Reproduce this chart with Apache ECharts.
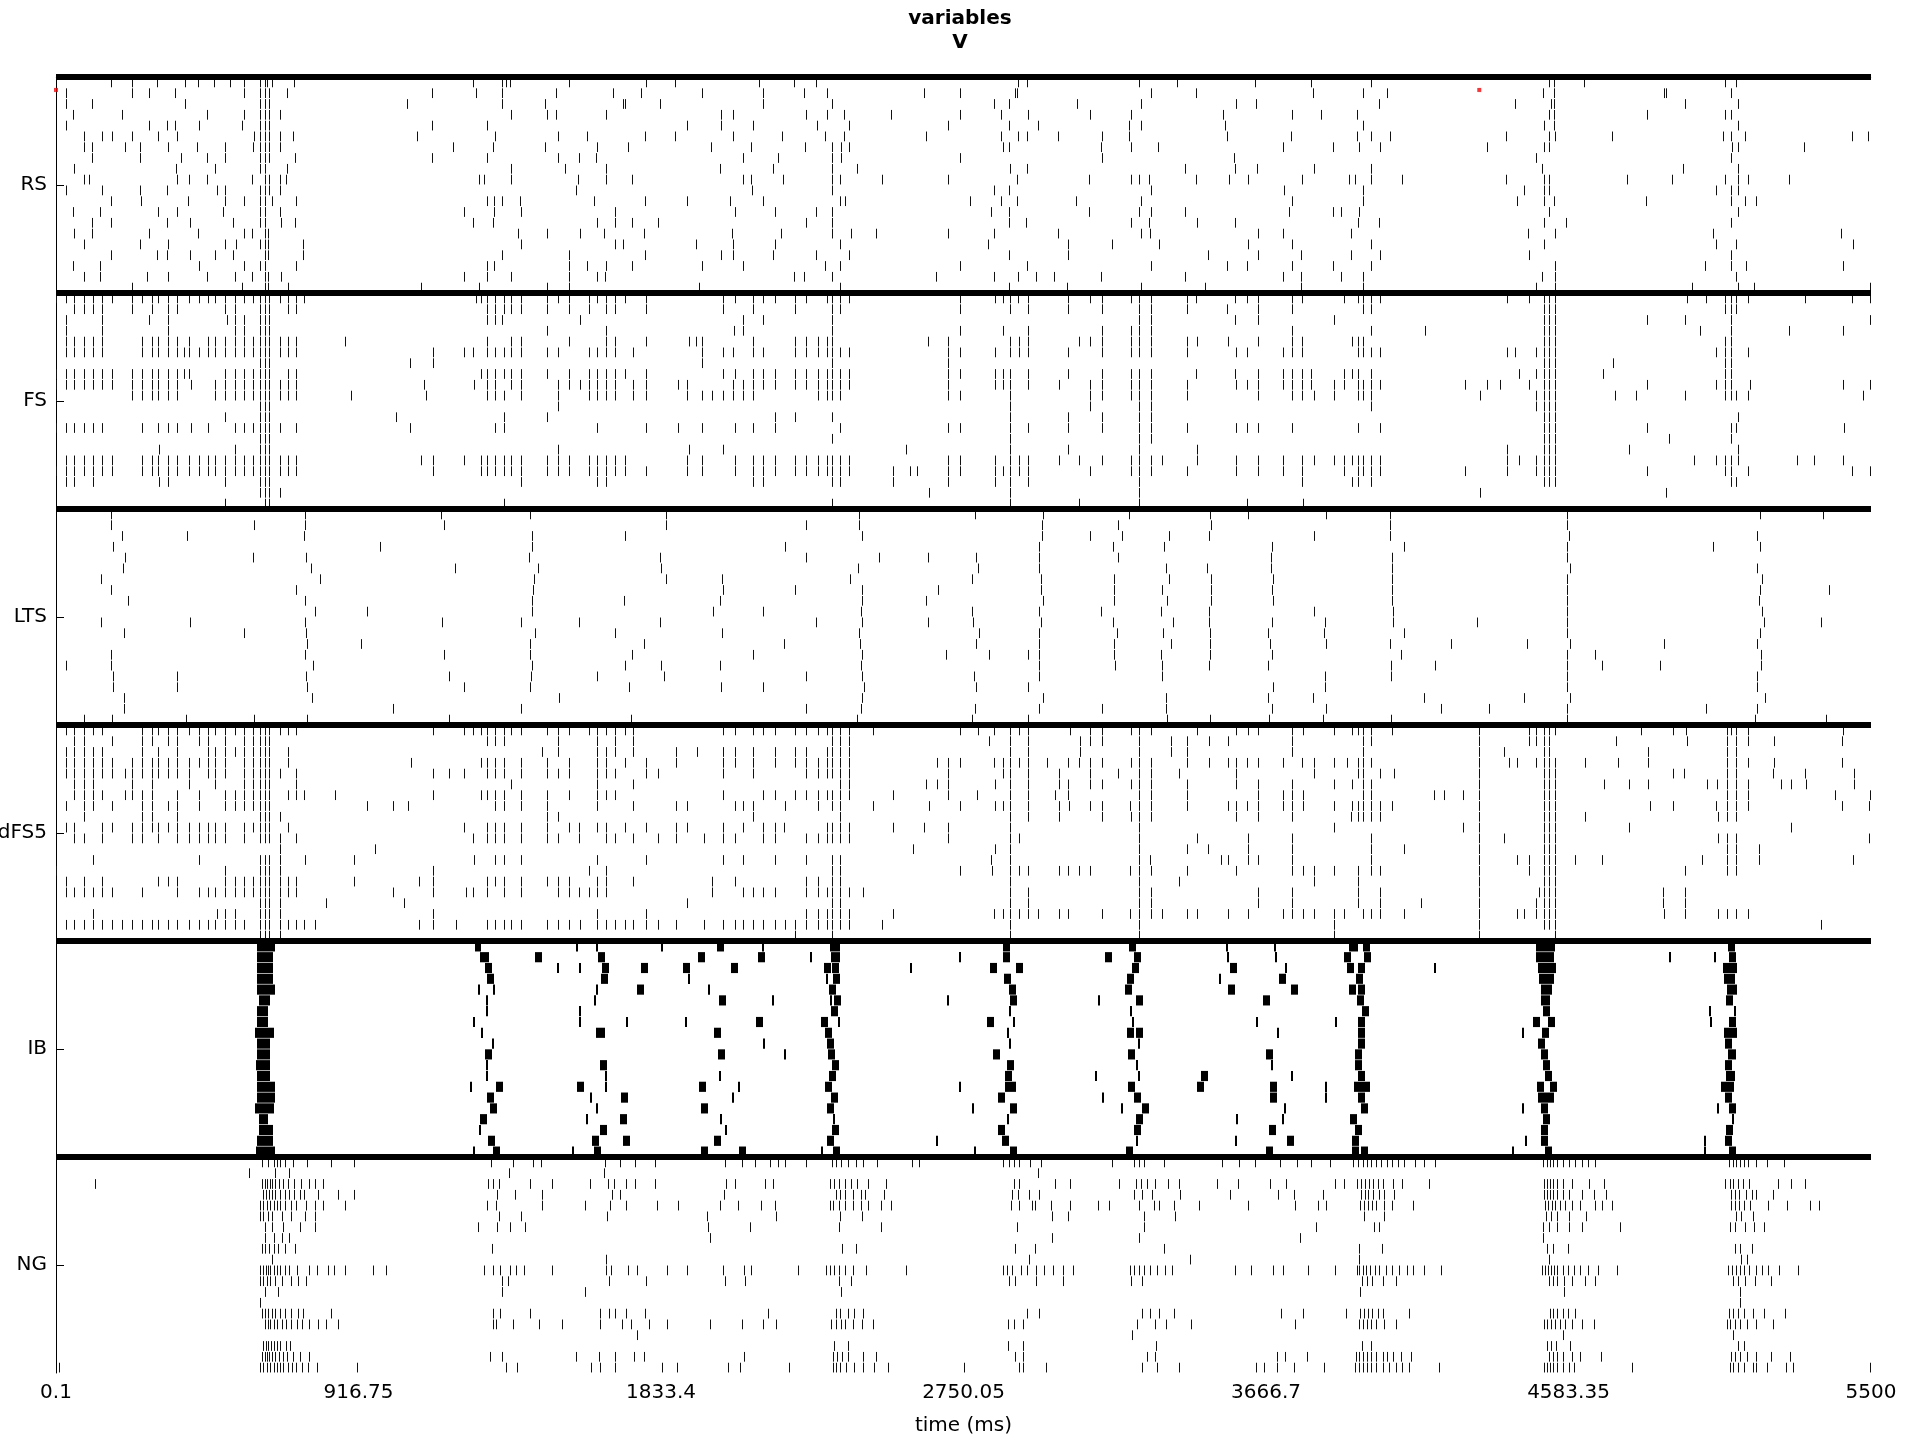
<!DOCTYPE html>
<html><head><meta charset="utf-8">
<script src="https://cdn.jsdelivr.net/npm/echarts@6/dist/echarts.min.js"></script>
<style>html,body{margin:0;padding:0;background:#fff}#main{width:1920px;height:1440px}</style>
</head><body><div id="main"></div><script>
const groupNames = ['RS','FS','LTS','dFS5','IB','NG'];
const groupLabelRows = [10,30,50,70,90,110];
const groupBoundaries = [0,20,40,60,80,100];
const xTickValues = [0.1, 916.75, 1833.4, 2750.05, 3666.7, 4583.35, 5500];
const redMarks = [[0.1,1.2],[4313,1.2]];

const RS = [
[166,231,305,391,431,480,528,569,619,632,639,656,721,1263,1352,1363,1376,1556,1788,1877,2131,2235,2302,2915,2943,3283,3396,3634,3804,3984,4524,4539,4630,5059,5092],
[29,231,281,361,569,617,632,647,700,1138,1272,1352,1515,1688,1773,1957,2144,2267,2336,2631,2739,2906,2913,3318,3455,3808,3960,4034,4506,4539,4872,4879,5077],
[29,108,391,617,632,647,1064,1352,1482,1718,1723,1831,2144,2352,2841,2888,3094,3287,3576,3637,4010,4420,4530,4539,4935,5096],
[53,201,459,569,617,632,647,678,1380,1487,1515,1666,2015,2052,2272,2336,2388,2529,2739,2865,2947,3132,3259,3537,3747,3832,3943,4524,4539,4821,5057,5076],
[29,281,335,361,433,565,617,632,647,1138,1306,1912,2015,2111,2306,2402,2703,2888,2977,3251,3287,3541,3962,4508,4539,5096],
[84,138,170,231,309,368,600,617,632,647,678,717,1094,1330,1521,1608,1786,1875,2053,2200,2330,2388,2636,2865,2915,2943,3036,3170,3251,3550,3741,3943,3986,4042,4393,4524,4543,4714,5053,5076,5118,5441,5490],
[84,108,209,255,340,426,511,598,617,632,647,678,1203,1324,1482,1640,1732,1985,2105,2271,2352,2378,2402,2869,2888,3168,3259,3338,3717,3871,3949,4012,4335,4508,4524,5079,5096,5297],
[108,255,378,459,511,617,632,647,725,1138,1306,1521,1586,1636,2081,2187,2352,2378,2739,3170,3569,4484,5076],
[56,365,483,617,632,699,1380,1543,1667,2011,2172,2352,2428,2891,2943,3422,3574,3639,3812,3984,4502,4929,5096],
[84,101,368,402,459,593,632,647,678,697,1283,1296,1380,1582,1667,1745,2081,2105,2204,2352,2375,2503,2703,2913,3129,3259,3283,3311,3454,3556,3611,3775,3919,3936,3984,4079,4393,4508,4524,4760,4898,5057,5096,5126,5252],
[29,138,255,335,489,511,617,632,647,678,1576,2109,2352,2841,2888,3318,3721,3960,4450,4508,4524,5029,5076,5096],
[168,257,400,511,569,617,632,656,728,1306,1328,1352,1406,1630,1784,1912,2042,2143,2375,2391,2769,2865,2913,3092,3287,3745,3960,4426,4508,4539,4818,5076,5118,5152],
[53,134,309,368,506,617,632,678,1235,1328,1408,1693,2059,2178,2302,2352,2832,2888,3131,3283,3318,3422,3736,3871,3895,3949,4524,5096],
[108,168,335,407,537,617,632,682,723,1265,1324,1638,1693,1745,1825,2272,2352,2888,2939,3257,3311,3457,3572,3945,4010,4508,4575,5076],
[56,108,283,430,569,593,632,643,1400,1487,1589,1662,1781,2048,2198,2352,2408,2484,2703,2841,3036,3287,3314,3641,3719,3923,4461,4543,5020,5408],
[84,255,340,511,545,617,632,643,749,1408,1693,1719,1940,2052,2178,2375,2823,3068,3199,3342,3611,3747,3986,4508,5029,5092,5445],
[168,305,335,407,483,537,632,643,749,1352,1556,1786,2015,2052,2172,2302,2402,2888,3068,3491,3641,3773,3923,4012,4465,5076],
[53,134,433,569,617,632,728,1306,1326,1556,1608,1667,1745,1959,2083,2330,2375,2739,2943,3318,3548,3608,3747,3871,3984,4543,4998,5076,5122,5415],
[84,134,277,340,459,541,593,632,643,682,1235,1306,1378,1556,1640,1664,2235,2267,2352,2666,2841,2915,2971,3025,3168,3422,3717,3773,3895,3960,4502,4543,5092],
[231,563,632,643,702,1105,1283,1487,1556,1948,2375,2888,3064,3287,3481,3773,3960,4484,4543,4957,5096,5146,5497]
];

const FS = [
[1,29,56,84,112,138,170,231,261,290,309,340,368,402,433,461,483,511,541,569,597,617,632,647,678,702,728,752,1272,1287,1306,1330,1358,1380,1408,1487,1521,1556,1615,1640,1667,1693,1723,1788,2020,2057,2111,2143,2178,2239,2272,2336,2352,2375,2402,2739,2845,2869,2891,2915,2947,3068,3134,3171,3259,3283,3318,3428,3455,3574,3609,3641,3747,3775,3903,3945,3962,3986,4012,4396,4465,4508,4524,4543,4942,5001,5059,5076,5092,5126,5300,5443,5497],
[56,84,112,138,231,290,340,368,511,541,617,632,647,702,728,1306,1330,1358,1380,1408,1487,1556,1615,1667,1693,1788,2020,2111,2239,2352,2375,2739,2891,2947,3068,3171,3283,3318,3428,3550,3641,3747,3962,3986,4508,4524,4543,5059,5076,5092],
[29,138,281,340,517,541,569,617,632,647,1306,1330,1352,1588,2081,2143,2352,3283,3318,3574,3641,3873,4508,4524,4543,4821,4935,5076,5497],
[29,138,340,541,569,617,632,647,1487,1667,2055,2081,2352,2739,2869,2947,3171,3259,3283,3318,3747,3986,4150,4508,4524,4543,4981,5076,5252,5415],
[29,56,84,112,138,261,290,309,340,368,402,461,483,511,541,569,597,617,632,647,678,702,728,875,1306,1380,1408,1556,1667,1693,1788,1918,1940,1959,2111,2239,2272,2308,2336,2352,2642,2703,2891,2917,2947,3099,3132,3171,3259,3283,3318,3428,3459,3552,3641,3747,3775,3927,3945,3962,4508,4524,4543,5059,5076],
[29,56,84,112,138,261,290,309,340,368,387,402,433,461,483,511,541,569,597,617,632,647,678,702,728,1142,1235,1263,1306,1330,1358,1380,1408,1487,1521,1615,1640,1667,1693,1749,1957,2020,2052,2111,2143,2239,2272,2308,2336,2352,2375,2402,2703,2739,2845,2891,2917,2947,3068,3171,3259,3283,3318,3428,3576,3609,3717,3747,3775,3945,3962,3986,4012,4396,4422,4486,4508,4524,4543,5031,5059,5076,5126],
[617,632,647,1074,1142,1959,2352,2703,4508,4524,4543,4719,5059,5076],
[1,29,56,84,112,138,170,231,261,290,309,340,368,387,402,511,541,569,597,617,632,647,702,728,1287,1306,1330,1358,1380,1408,1487,1556,1615,1640,1667,1693,1723,1788,2020,2057,2111,2143,2178,2239,2272,2308,2336,2352,2375,2402,2703,2739,2845,2869,2891,2947,3068,3171,3259,3283,3318,3455,3574,3641,3717,3747,3775,3804,3903,3927,3945,3986,4432,4486,4508,4524,4543,4688,5059,5076],
[1,29,56,84,112,138,170,231,261,290,309,340,368,409,483,511,541,569,597,617,632,647,678,702,728,1114,1268,1306,1330,1380,1408,1521,1556,1589,1615,1640,1667,1693,1749,1788,1885,1912,2052,2081,2111,2143,2178,2239,2272,2308,2336,2352,2375,2402,2703,2845,2869,2891,2947,3040,3132,3171,3259,3283,3318,3428,3576,3609,3641,3717,3747,3775,3804,3873,3903,3945,3962,3986,4012,4270,4335,4376,4465,4508,4524,4543,4821,5031,5059,5076,5133,5415,5497],
[231,261,290,309,340,368,483,511,541,569,597,617,632,647,678,702,728,894,1120,1306,1330,1358,1408,1521,1615,1640,1667,1693,1749,1788,1912,1959,1989,2020,2052,2081,2111,2308,2336,2352,2375,2703,2739,2891,3132,3171,3259,3283,3318,3428,3641,3747,3775,3812,3873,3945,3962,3986,4315,4486,4508,4524,4543,4723,4788,4935,5059,5076,5092,5126,5475],
[617,632,647,1521,2891,3132,3283,3318,3986,4486,4508,4524,4543],
[511,617,632,647,1031,1358,1487,2178,2239,2352,2891,3068,3171,3283,3318,4508,4524,4543,5096],
[1,29,56,84,112,138,261,309,340,368,409,461,541,569,597,617,632,647,678,728,1074,1330,1358,1640,1788,1885,1959,2057,2111,2178,2375,2703,2739,2891,2947,3068,3171,3283,3318,3428,3576,3609,3641,3747,3945,4012,4508,4524,4543,4821,5076,5092,5419],
[617,632,647,2352,2891,3283,3318,4508,4524,4543,4888,5076],
[311,541,617,632,647,1521,1918,2020,2575,2891,3068,3283,3459,4396,4508,4524,4543,4768,5096],
[29,56,84,112,138,170,261,290,309,340,368,402,433,461,483,511,541,569,597,617,632,647,678,702,728,1105,1142,1235,1287,1306,1330,1358,1380,1408,1487,1521,1556,1615,1640,1667,1693,1723,1912,1959,2057,2111,2143,2178,2239,2272,2308,2336,2352,2375,2402,2703,2739,2845,2891,2917,2947,3040,3099,3171,3259,3283,3318,3351,3459,3576,3641,3717,3775,3812,3873,3903,3927,3945,3962,3986,4012,4396,4432,4486,4508,4524,4543,4964,5031,5059,5076,5096,5276,5326,5415],
[1,29,56,84,112,138,170,261,290,309,340,368,402,433,461,483,511,541,569,597,617,632,647,678,702,728,1142,1287,1306,1330,1358,1380,1408,1487,1521,1556,1615,1640,1667,1693,1723,1788,1912,1959,2057,2111,2143,2178,2239,2272,2308,2336,2352,2375,2402,2536,2588,2610,2703,2739,2845,2869,2891,2917,2947,3132,3259,3283,3318,3428,3576,3641,3717,3775,3903,3945,3962,3986,4012,4270,4396,4486,4508,4524,4543,4821,5059,5076,5126,5443,5497],
[29,56,112,311,340,511,617,632,647,1408,1640,1667,2111,2143,2352,2375,2536,2703,2845,2891,2947,3283,3775,3927,3945,3986,4508,4524,4543,5076,5092],
[617,632,647,678,2644,2891,3283,4315,4879],
[511,632,647,1358,2352,2891,3099,3283,3609,3778]
];

const LTS = [
[168,754,1168,1437,1849,2434,2785,2990,3251,3496,3611,3849,4042,4580,5163,5356],
[168,600,754,1177,1849,2272,2434,2988,3218,3500,4042,4580],
[201,396,752,1441,1723,2441,2988,3132,3229,3374,3493,3812,4042,4584,5156],
[172,983,1441,2209,2980,3203,3359,3684,4085,4580,5020,5163],
[210,598,758,1434,1829,2272,2493,2642,2789,2980,3218,3682,4047,4580],
[203,773,1209,1460,1833,2430,2795,2980,3363,3487,3682,4047,4589,5156],
[136,799,1450,1849,2018,2406,2776,2986,3207,3374,3500,3689,4047,4580,5170],
[168,726,1445,2020,2239,2441,2673,2986,3207,3351,3500,3684,4047,4580,5165,5373],
[218,754,1443,1721,2013,2441,2636,2990,3207,3366,3500,3689,4047,4580,5161],
[786,942,1443,1990,2143,2438,2776,2980,3166,3350,3493,3812,4053,4580,5170],
[136,405,754,1170,1409,1584,1831,2304,2441,2642,2780,2984,3203,3385,3493,3686,3845,4053,4305,4580,5176,5347],
[205,571,758,1452,1695,2018,2434,2798,2980,3216,3355,3496,3673,3843,4086,4580,5163],
[762,925,1435,1781,2207,2436,2789,2980,3207,3379,3496,3680,3849,4042,4226,4458,4589,4872,5156],
[168,754,1177,1437,1747,2111,2441,2697,2826,2947,2980,3207,3350,3496,3686,4075,4580,4664,5168],
[29,168,780,1441,1725,1834,2011,2440,2980,3209,3351,3493,3674,4044,4179,4580,4684,4860,5168],
[172,368,758,1192,1439,1638,1842,2272,2443,2782,2980,3351,3845,4044,4580,5156],
[173,368,762,1237,1435,1736,2015,2143,2449,2789,2945,3689,3845,4580,5156],
[207,775,1523,2441,2990,3363,3674,3810,4144,4450,4589,5178],
[205,1020,1408,2272,2440,2785,2978,3171,3364,3684,3847,4196,4343,4580,5000,5156],
[84,170,394,600,762,1190,1743,2428,2776,2947,3368,3496,3676,3838,4044,4580,5148,5363]
];

const dFS5 = [
[29,56,84,112,138,261,290,309,340,368,402,433,461,483,511,541,569,597,617,632,647,678,702,728,1142,1235,1263,1287,1306,1330,1358,1380,1408,1487,1521,1556,1615,1640,1667,1693,1723,1749,2020,2057,2111,2143,2178,2239,2272,2308,2336,2352,2375,2402,2477,2739,2795,2841,2891,2917,2947,3073,3132,3171,3259,3283,3318,3459,3576,3611,3641,3747,3778,3873,3927,3945,3962,3986,4049,4313,4465,4486,4508,4524,4543,4803,4899,4940,5063,5076,5092,5126,5415],
[56,84,170,261,290,340,368,433,461,511,569,597,617,632,647,1306,1330,1358,1521,1640,1693,1749,2352,2375,2402,2826,2891,2947,3103,3132,3171,3283,3379,3426,3494,3552,3747,3962,3986,4313,4465,4486,4508,4524,4727,4942,5063,5092,5126,5206,5413],
[29,56,84,112,138,261,309,368,461,483,511,541,569,597,617,632,647,702,1473,1521,1640,1667,1693,1749,1879,1944,2020,2057,2111,2178,2239,2272,2336,2352,2375,2402,2891,2947,3103,3283,3379,3426,3747,3962,4313,4389,4508,4524,4823,5063,5092],
[29,56,84,112,138,170,231,261,290,309,340,368,402,433,461,483,511,569,597,617,632,647,702,1077,1287,1306,1330,1358,1408,1487,1556,1640,1667,1723,1788,1879,2020,2057,2111,2178,2239,2272,2308,2336,2352,2375,2402,2670,2703,2739,2841,2869,2891,2917,2947,3004,3067,3099,3132,3171,3259,3283,3318,3428,3494,3552,3576,3609,3641,3717,3775,3812,3873,3912,3945,3962,3986,4313,4402,4428,4486,4508,4524,4543,4634,4732,4823,5063,5092,5126,5206,5413],
[29,56,84,112,138,170,209,231,261,290,309,340,368,402,461,483,511,569,597,617,632,647,678,728,1142,1190,1235,1306,1330,1358,1408,1487,1521,1556,1640,1667,1693,1788,1825,2020,2111,2272,2308,2336,2352,2375,2402,2703,2869,2891,2947,3038,3132,3218,3283,3318,3403,3576,3812,3945,3962,4012,4055,4313,4508,4524,4543,4899,4933,5063,5092,5204,5300,5447],
[56,84,112,231,290,402,483,569,597,617,632,647,728,1380,1640,1749,2375,2402,2636,2670,2703,2845,2891,2947,3040,3067,3132,3171,3259,3283,3318,3428,3576,3641,3747,3873,3927,3962,3986,4313,4508,4524,4543,4690,4768,4823,5003,5033,5063,5092,5126,5228,5258,5302,5447],
[56,84,112,138,209,231,261,290,368,433,511,541,569,597,617,632,647,702,728,752,847,1142,1287,1306,1330,1358,1408,1487,1556,1640,1667,1693,2020,2143,2178,2239,2272,2308,2336,2352,2375,2402,2536,2703,2791,2891,2947,3027,3067,3283,3318,3428,3641,3719,3747,3778,3962,3986,4177,4205,4265,4313,4508,4524,4543,5063,5092,5126,5391,5497],
[29,84,112,170,261,290,340,368,433,511,541,569,597,617,632,647,944,1020,1068,1330,1358,1408,1487,1640,1749,1879,1912,2057,2081,2111,2209,2308,2352,2375,2477,2644,2739,2845,2869,2891,2947,3038,3069,3132,3171,3255,3283,3318,3428,3552,3576,3609,3641,3717,3747,3778,3873,3927,3945,3962,3986,4012,4047,4313,4508,4524,4543,4829,4899,5031,5063,5092,5126,5412,5493],
[84,261,290,368,617,632,647,680,1487,1521,2111,2375,2891,2947,3038,3171,3259,3283,3318,3576,3641,3747,3923,3945,3962,3986,4012,4313,4508,4524,4543,4632,5035,5063,5092],
[29,56,138,170,231,261,290,309,340,368,402,433,461,483,511,569,597,617,632,647,702,1235,1306,1330,1358,1408,1487,1556,1584,1640,1667,1723,1788,1879,1912,2020,2081,2143,2178,2206,2336,2352,2375,2402,2536,2629,2703,2891,3283,3873,4265,4313,4508,4524,4543,4766,5258],
[56,84,138,231,261,309,368,402,433,461,483,511,569,617,632,647,678,728,1263,1306,1330,1358,1408,1487,1521,1584,1667,1693,1749,1825,1879,1963,2020,2057,2143,2178,2272,2308,2336,2352,2375,2402,2703,2891,2917,3283,3457,3613,3747,3986,4313,4389,4508,4524,4543,5035,5063,5092,5493],
[680,966,2597,2845,2891,3283,3426,3491,3613,3747,3986,4085,4313,4508,4524,4543,5063,5092,5161],
[112,433,617,632,647,680,754,903,1268,1330,1358,1408,1640,1788,2020,2081,2178,2272,2352,2375,2832,2891,3283,3314,3531,3552,3613,3641,3747,3986,4313,4428,4465,4508,4524,4543,4604,4684,4987,5063,5092,5161,5445],
[1,511,617,632,647,680,1142,1615,1667,2352,2375,2739,2836,2891,2917,2947,3038,3067,3099,3132,3255,3283,3318,3428,3576,3747,3778,3812,3873,3945,3986,4012,4313,4465,4508,4524,4543,4937,5063,5092],
[29,84,138,309,340,368,511,541,569,597,617,632,647,680,702,728,903,1100,1142,1306,1330,1358,1408,1487,1521,1556,1640,1667,1749,1989,2057,2272,2308,2352,2375,2891,3283,3403,3812,3945,4313,4508,4524,4543],
[29,56,84,112,138,170,261,368,433,461,483,511,541,569,597,617,632,647,678,702,728,1020,1142,1244,1263,1306,1358,1408,1521,1556,1584,1615,1640,1667,1989,2081,2111,2143,2178,2272,2308,2336,2352,2375,2402,2447,2891,2947,3283,3318,3641,3747,3945,4012,4313,4493,4508,4524,4543,4870,4935],
[617,632,647,680,817,1055,1912,2352,2375,2891,2947,3283,3318,3641,3747,3945,4012,4137,4313,4486,4508,4524,4543,4870,4935],
[112,489,511,541,617,632,647,680,1142,1640,1788,2272,2308,2336,2352,2375,2402,2536,2841,2869,2891,2917,2947,2977,3040,3067,3169,3255,3283,3318,3351,3428,3457,3552,3613,3717,3747,3778,3812,3873,3903,3962,3986,4012,4085,4313,4428,4447,4486,4508,4524,4543,4873,4935,5035,5063,5092,5126],
[29,56,84,112,138,170,201,231,261,290,309,340,368,402,433,461,483,511,541,569,617,632,647,678,702,728,752,786,1100,1142,1211,1306,1330,1358,1380,1408,1487,1521,1556,1589,1640,1667,1693,1723,1749,1788,1825,1879,1963,2020,2057,2081,2111,2143,2178,2209,2239,2272,2308,2336,2352,2375,2402,2503,2891,3283,3873,4313,4508,4524,4543,5348],
[617,632,647,680,2239,2352,2891,3283,3873,4313,4543]
];

// IB bursts: [onset ms, burst duration ms]
const IB = [
[[613,47],[1272,12],[1580,0],[1640,0],[1835,0],[2006,14],[2143,0],[2350,24],[2873,14],[3255,14],[3548,0],[3695,0],[3920,20],[3964,14],[4487,52],[5070,14]],
[[613,43],[1289,20],[1456,14],[1647,14],[1948,14],[2130,14],[2289,0],[2352,20],[2739,0],[2873,14],[3181,14],[3270,14],[3552,0],[3697,0],[3905,14],[3968,14],[4487,48],[4890,0],[5026,0],[5074,14]],
[[613,43],[1304,14],[1521,0],[1589,0],[1657,14],[1777,14],[1902,14],[2050,14],[2329,14],[2356,14],[2590,0],[2832,14],[2912,14],[3265,14],[3560,14],[3726,0],[3916,14],[3948,14],[4179,0],[4493,47],[5055,37]],
[[613,43],[1308,14],[1655,14],[1918,0],[2336,0],[2358,14],[2877,14],[3248,14],[3526,0],[3710,14],[3942,14],[4498,38],[5059,28]],
[[613,47],[1283,0],[1326,0],[1640,0],[1764,14],[1979,0],[2347,14],[2892,14],[3241,14],[3554,14],[3744,14],[3920,14],[3948,14],[4502,28],[5068,24]],
[[619,28],[1307,0],[1634,0],[2013,14],[2172,0],[2350,0],[2360,14],[2703,0],[2893,14],[3160,0],[3276,14],[3660,14],[3944,14],[4504,20],[5065,14]],
[[613,28],[1306,0],[1589,0],[2352,14],[2891,0],[3259,0],[3961,14],[4508,14],[5011,0],[5087,0]],
[[613,28],[1268,0],[1588,0],[1731,0],[1909,0],[2124,14],[2321,14],[2373,0],[2825,14],[2902,0],[3264,0],[3639,0],[3879,0],[3948,14],[4480,14],[4523,14],[5016,0],[5074,14]],
[[606,50],[1292,0],[1638,22],[1998,14],[2332,14],[2884,0],[3250,14],[3276,14],[3704,0],[3948,14],[4446,0],[4506,14],[5059,33]],
[[613,34],[1324,0],[2146,0],[2338,14],[2891,0],[3283,0],[3948,14],[4495,14],[5061,14]],
[[613,34],[1302,14],[2008,14],[2209,0],[2343,14],[2843,14],[3252,14],[3671,14],[3938,14],[4504,14],[5070,19]],
[[610,37],[1306,0],[1651,14],[2356,14],[2886,14],[3277,0],[3686,0],[3938,14],[4510,14],[5061,14]],
[[613,34],[1306,0],[1667,0],[2013,0],[2347,14],[2880,14],[3151,0],[3283,0],[3474,14],[3747,0],[3948,14],[4514,14],[5064,22]],
[[613,47],[1259,0],[1336,14],[1582,14],[1667,0],[1952,14],[2070,0],[2332,14],[2740,0],[2880,26],[3252,14],[3460,14],[3682,14],[3847,0],[3936,42],[4491,14],[4529,14],[5050,32]],
[[613,47],[1308,14],[1621,0],[1716,14],[2053,0],[2351,14],[2858,14],[3173,0],[3270,14],[3682,14],[3847,0],[3948,14],[4493,43],[5061,14]],
[[606,50],[1317,14],[1640,0],[1957,14],[2338,14],[2780,0],[2895,14],[3231,0],[3293,14],[3723,0],[3957,14],[4446,0],[4504,14],[5035,0],[5074,14]],
[[619,22],[1289,14],[1608,0],[1712,14],[2015,0],[2358,0],[2884,0],[3276,14],[3578,0],[3717,0],[3925,14],[4508,14],[5081,0]],
[[619,37],[1285,0],[1651,14],[2031,0],[2356,14],[2858,14],[3270,14],[3679,14],[3938,14],[4504,14],[5065,14]],
[[613,43],[1313,14],[1627,14],[1720,14],[1998,14],[2338,14],[2670,0],[2871,14],[3275,0],[3576,0],[3734,14],[3929,14],[4456,0],[4504,14],[4998,0],[5061,14]],
[[610,50],[1268,0],[1326,14],[1567,0],[1633,14],[1957,14],[2072,14],[2321,0],[2358,14],[2785,0],[2895,14],[3246,14],[3669,14],[3929,14],[3957,14],[4415,0],[4514,14],[4998,0],[5074,14]]
];

const NG = [
[623,641,660,669,680,693,717,762,832,903,1319,1385,1445,1469,1664,1708,1755,1814,2026,2079,2118,2165,2187,2209,2272,2352,2363,2380,2400,2425,2447,2488,2595,2614,2869,2888,2902,2917,2952,2986,3199,3268,3281,3296,3357,3533,3585,3634,3708,3760,3802,3860,3931,3945,3960,3973,3986,4001,4016,4033,4049,4068,4085,4118,4146,4179,4506,4517,4526,4536,4549,4567,4586,4604,4623,4641,4664,5070,5081,5092,5104,5115,5128,5152,5185,5237],
[585,665,706,1374,1662,2975],
[118,625,632,639,649,656,665,676,687,702,721,743,767,786,810,1309,1324,1343,1435,1504,1617,1673,1690,1727,1755,1814,2031,2057,2150,2174,2345,2358,2373,2391,2410,2428,2462,2516,2902,2917,3027,3073,3222,3272,3287,3305,3329,3370,3403,3519,3583,3680,3726,3875,3904,3942,3955,3966,3979,3992,4007,4020,4051,4079,4161,4508,4517,4526,4536,4549,4567,4595,4645,4691,5059,5074,5083,5096,5111,5130,5217,5259,5300],
[628,637,647,656,665,680,693,706,721,739,752,795,855,903,1337,1391,1473,1686,1708,2024,2363,2376,2391,2414,2438,2452,2510,2897,2915,2949,2980,3268,3290,3320,3407,3559,3704,3751,3838,3955,3966,3977,3990,4008,4023,4055,4508,4517,4526,4536,4549,4567,4586,4623,4660,4697,5077,5089,5100,5120,5139,5152,5204],
[619,628,639,649,660,669,680,695,712,726,758,786,810,875,1306,1333,1473,1603,1679,1727,1820,1885,2011,2068,2137,2178,2345,2354,2373,2391,2414,2438,2462,2499,2530,2893,2919,2958,2967,3014,3073,3157,3190,3281,3327,3342,3389,3463,3611,3756,3825,3847,3951,3964,3977,3988,4001,4025,4047,4112,4511,4521,4532,4543,4558,4573,4595,4617,4664,4684,4714,5077,5089,5100,5115,5133,5189,5245,5315,5341],
[617,628,641,656,684,712,754,786,1341,1408,1671,1974,2183,2376,2443,3017,3068,3296,3392,3964,4025,4515,4530,4549,4586,4636,5091,5105,5142],
[632,656,687,739,786,1278,1337,1376,1421,1977,2104,2373,2499,2912,3296,3817,3994,4008,4506,4524,4549,4586,4623,4738,5072,5087,5118,5146,5176],
[632,660,684,706,1983,3017,3283,3771,4506],
[625,634,647,660,674,693,725,1320,2382,2425,2906,2967,3357,3947,4018,4517,4536,4582,5089,5102,5139],
[656,1667,2949,3437,3949,4524,5105,5124],
[619,628,636,643,650,660,669,680,693,706,730,767,790,823,842,875,962,999,1296,1324,1346,1376,1395,1419,1504,1667,1682,1732,1760,1851,1912,2020,2085,2107,2248,2332,2345,2358,2373,2391,2414,2454,2577,2869,2882,2897,2925,2943,2971,2995,3021,3051,3082,3255,3268,3283,3296,3314,3337,3361,3383,3574,3621,3689,3717,3793,3877,3942,3949,3960,3971,3983,3997,4010,4029,4047,4070,4094,4112,4146,4198,4502,4511,4521,4530,4539,4549,4567,4582,4599,4617,4641,4673,4730,5068,5079,5091,5102,5115,5130,5152,5170,5189,5222,5278],
[619,628,639,650,665,684,712,734,758,1352,1370,1677,1788,2026,2089,2373,2408,2888,2906,2971,3051,3259,3290,3958,3973,3988,4020,4060,4524,4536,4549,4571,4595,4632,4664,5083,5096,5118,5148,5198],
[632,674,1352,1603,2378,3953,4571,5102],
[619,5102],
[625,634,643,654,665,680,693,712,734,749,832,1324,1346,1435,1649,1677,1695,1727,1784,2159,2363,2376,2400,2419,2447,2943,2980,3292,3314,3342,3389,3713,3780,3908,3951,3964,3977,3988,4007,4020,4099,4526,4536,4549,4567,4582,4604,5070,5081,5096,5115,5142,5176,5239],
[632,641,650,660,671,684,697,712,730,745,767,795,817,855,1324,1333,1384,1463,1532,1649,1714,1742,1797,1853,1983,2079,2141,2183,2349,2363,2378,2391,2414,2443,2475,2884,2902,2930,3277,3329,3364,3439,3754,3949,3960,3973,3986,4001,4025,4060,4508,4517,4530,4543,4558,4573,4595,4623,4660,5064,5074,5087,5102,5124,5152,5204],
[1760,3262,4567,5081],
[628,636,643,652,660,669,680,697,708,2358,2400,2884,2930,3333,3957,3986,4517,4530,4545,4589,5096,5115],
[625,632,639,647,656,665,676,687,699,717,739,767,1315,1352,1575,1645,1695,1751,1783,2085,2354,2367,2382,2400,2447,2484,2906,2930,3305,3329,3699,3723,3791,3940,3949,3960,3973,3986,4001,4020,4033,4051,4075,4107,4524,4536,4549,4567,4595,4617,4682,5077,5087,5102,5124,5152,5198,5254],
[10,619,628,639,649,660,669,680,689,702,715,728,745,764,791,912,1365,1398,1621,1649,1695,1835,1881,2035,2072,2220,2354,2363,2376,2395,2419,2447,2478,2521,2752,2917,2930,3001,3292,3337,3402,3637,3661,3700,3751,3843,3936,3949,3960,3973,3986,4001,4020,4038,4060,4079,4099,4190,4508,4517,4526,4536,4549,4567,4586,4601,4777,5072,5081,5096,5115,5142,5152,5185,5241,5263,5498]
];

// ---------- build series data ----------
const tickGroups = [RS, FS, LTS, dFS5, null, NG];
const tickData = [];
tickGroups.forEach((g, gi) => {
  if (!g) return;
  g.forEach((row, ri) => {
    const r = gi * 20 + ri + 1;
    row.forEach(t => tickData.push([t, r]));
  });
});
const burstData = [];
IB.forEach((row, ri) => {
  const r = 80 + ri + 1;
  row.forEach(b => burstData.push([b[0], r, b[1]]));
});

function renderTick(params, api) {
  const t = api.value(0), r = api.value(1);
  const a = api.coord([t, r - 0.95]);
  const b = api.coord([t, r - 0.05]);
  const x = Math.round(a[0]) + 0.5;
  return { type: 'line', shape: { x1: x, y1: a[1], x2: x, y2: b[1] },
           style: { stroke: '#111', lineWidth: 1 } };
}
function renderBurst(params, api) {
  const t = api.value(0), r = api.value(1), w = api.value(2);
  const a = api.coord([t, r - 0.97]);
  const b = api.coord([t + w, r - 0.03]);
  const x0 = Math.round(a[0]) - 1;
  const width = Math.max(2, Math.round(b[0] - a[0]) + 2);
  return { type: 'rect', shape: { x: x0, y: a[1], width: width, height: b[1] - a[1] },
           style: { fill: '#000' } };
}

const FONT = 'DejaVu Sans';
const chart = echarts.init(document.getElementById('main'));
chart.setOption({
  animation: false,
  backgroundColor: '#fff',
  title: {
    text: 'variables\nV', left: 'center', top: 2,
    textStyle: { fontFamily: FONT, fontSize: 20, fontWeight: 'bold', color: '#000', lineHeight: 24 }
  },
  grid: { left: 56, right: 49, top: 77, bottom: 67, containLabel: false, outerBoundsMode: 'none' },
  xAxis: {
    type: 'value', min: 0.1, max: 5500,
    name: 'time (ms)', nameLocation: 'middle', nameGap: 43,
    nameTextStyle: { fontFamily: FONT, fontSize: 20, color: '#000' },
    axisLine: { show: true, lineStyle: { color: '#cfcfcf', width: 1 } },
    axisTick: { show: false },
    splitLine: { show: false },
    axisLabel: { customValues: xTickValues, fontFamily: FONT, fontSize: 20, color: '#000', margin: 10,
                 formatter: v => String(v) }
  },
  yAxis: {
    type: 'value', min: 0, max: 120, inverse: true,
    axisLine: { show: true, lineStyle: { color: '#000', width: 1 } },
    axisTick: { show: true, inside: true, length: 8, customValues: groupLabelRows, lineStyle: { color: '#000' } },
    splitLine: { show: false },
    axisLabel: { customValues: groupLabelRows, fontFamily: FONT, fontSize: 20, color: '#000', margin: 9,
                 formatter: v => groupNames[groupLabelRows.indexOf(v)] || '' }
  },
  series: [
    { type: 'custom', name: 'spikes', renderItem: renderTick, data: tickData,
      encode: { x: 0, y: 1 }, silent: true, z: 2 },
    { type: 'custom', name: 'IB bursts', renderItem: renderBurst, data: burstData,
      dimensions: ['t', 'row', 'w'], encode: { x: 0, y: 1 }, silent: true, z: 3 },
    { type: 'line', name: 'groups', data: [], z: 4,
      markLine: { silent: true, symbol: ['none', 'none'], animation: false, label: { show: false },
                  lineStyle: { color: '#000', width: 6, type: 'solid' },
                  data: groupBoundaries.map(v => ({ yAxis: v })) } },
    { type: 'scatter', name: 'marked', data: redMarks, symbol: 'rect', symbolSize: 4,
      itemStyle: { color: '#ff0000' }, silent: true, z: 5 }
  ]
});
</script></body></html>
